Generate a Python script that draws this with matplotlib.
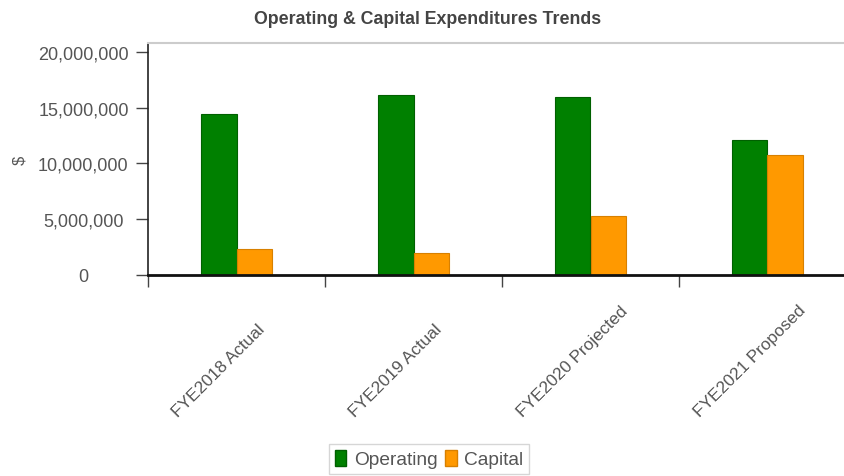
import numpy as np
import matplotlib.pyplot as plt
import matplotlib.transforms as mtransforms
from matplotlib.ticker import FuncFormatter
from matplotlib.patches import Patch

plt.rcParams['font.family'] = ['Liberation Sans', 'DejaVu Sans']

# yearly spending in dollars
years = ['FYE2018 Actual', 'FYE2019 Actual', 'FYE2020 Projected', 'FYE2021 Proposed']
operating = [14450000, 16150000, 15950000, 12080000]
capital = [2320000, 1960000, 5300000, 10800000]

grey = '#555555'
fig = plt.figure(figsize=(8.45, 4.77), dpi=100)
ax = fig.add_axes([148/845, 1-276/477, (856-148)/845, (276-44)/477])

x = np.arange(len(years))
w = 0.2
ax.bar(x - w/2, operating, w, color='#008000', edgecolor='#006000', linewidth=0.8, label='Operating')
ax.bar(x + w/2, capital, w, color='#ff9900', edgecolor='#d88000', linewidth=0.8, label='Capital')

ax.set_xlim(-0.5, 3.5)
ax.set_ylim(0, 20800000)
ax.set_yticks([0, 5000000, 10000000, 15000000, 20000000])
ax.yaxis.set_major_formatter(FuncFormatter(lambda v, p: f'{int(v):,}'))
# y labels are centred in their column rather than right-aligned
ax.tick_params(axis='y', length=8.5, width=1, color='#444444', labelsize=13, labelcolor=grey, pad=38)
for lab in ax.get_yticklabels():
    lab.set_horizontalalignment('center')

# category ticks sit on group boundaries, labels go under group centres
ax.set_xticks(np.arange(-0.5, 4, 1))
ax.set_xticklabels([])
ax.tick_params(axis='x', which='major', length=8.5, width=1, color='#444444')
ax.set_xticks(x, minor=True)
ax.set_xticklabels(years, minor=True, rotation=45, ha='center', va='bottom',
                   fontsize=12.4, color=grey)
ax.tick_params(axis='x', which='minor', length=0, pad=0)
shift = mtransforms.ScaledTranslation(-18/100, -144/100, fig.dpi_scale_trans)
for lab in ax.get_xticklabels(minor=True):
    lab.set_transform(lab.get_transform() + shift)

ax.spines['left'].set_color('#222222')
ax.spines['left'].set_linewidth(1.2)
ax.spines['bottom'].set_color('#111111')
ax.spines['bottom'].set_linewidth(2)
ax.spines['top'].set_color('#cccccc')
ax.spines['top'].set_linewidth(1.5)
ax.spines['right'].set_visible(False)

ax.set_ylabel('$', color=grey, fontsize=12)
ax.yaxis.set_label_coords(-121/708, (276-160)/232)

fig.text(428/845, 1-20/477, 'Operating & Capital Expenditures Trends', ha='center', va='center',
         fontsize=12.8, fontweight='bold', color='#444444')

handles = [Patch(facecolor='#008000', edgecolor='#006000'),
           Patch(facecolor='#ff9900', edgecolor='#d88000')]
fig.legend(handles, ['Operating', 'Capital'], loc='center', bbox_to_anchor=(429/845, 1-460/477),
           ncol=2, fontsize=13.8, frameon=True, fancybox=False, edgecolor='#cccccc',
           handlelength=0.6, handleheight=0.9, handletextpad=0.4, columnspacing=0.4,
           borderpad=0.3, labelcolor=grey)

fig.savefig('out.png', dpi=100)
